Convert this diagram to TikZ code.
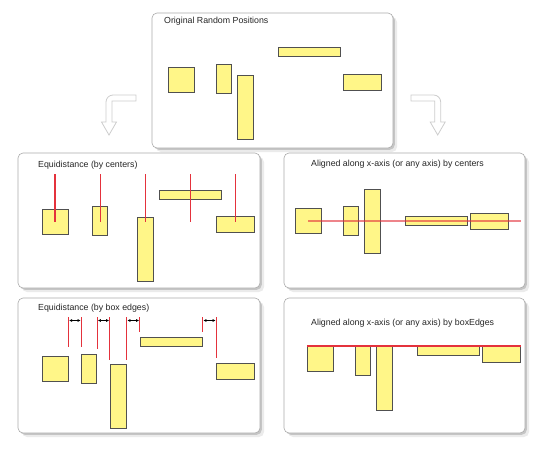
\documentclass[tikz,border=0pt]{standalone}
\usepackage{fontspec}
\setmainfont{Liberation Sans}
\usetikzlibrary{shadows,arrows.meta,calc}

\definecolor{boxfill}{RGB}{255,246,136}
\definecolor{boxline}{RGB}{80,80,80}
\definecolor{redline}{RGB}{228,50,60}
\definecolor{panelline}{RGB}{170,170,170}
\definecolor{flowgrey}{RGB}{205,205,205}

\tikzset{
  panel/.style={draw=panelline, fill=white, rounded corners=5pt, line width=0.6pt,
    general shadow={fill=black, opacity=0.08, shadow xshift=4pt, shadow yshift=-4pt},
    general shadow={fill=black, opacity=0.16, shadow xshift=1.8pt, shadow yshift=-1.8pt}},
  ttl/.style={anchor=west, inner sep=0pt, text=black!85, font=\fontsize{8.8}{10}\selectfont},
  blk/.style={draw=boxline, fill=boxfill, line width=0.9pt, inner sep=0pt},
  squ/.style={blk, minimum width=26pt, minimum height=25pt},
  nar/.style={blk, minimum width=15pt, minimum height=29pt},
  tal/.style={blk, minimum width=16pt, minimum height=64pt},
  lng/.style={blk, minimum width=62pt, minimum height=9pt},
  med/.style={blk, minimum width=38pt, minimum height=16pt},
  guideline/.style={draw=redline, line width=1.1pt},
  dimarrow/.style={<->, >={Latex[length=3pt,width=3pt]}, line width=0.6pt, black},
  flow/.style={draw=flowgrey, fill=white, line width=0.8pt}
}

\begin{document}
\begin{tikzpicture}[x=1pt, y=-1pt]
  \useasboundingbox (0,0) rectangle (544,450);

  % Flow arrows
  \draw[flow] (136,95) [rounded corners=7pt] -- (106,95) -- (106,110) [sharp corners] -- (106,122)
    -- (101.5,122) -- (109,135) -- (116.5,122) -- (112,122) -- (112,101) -- (136,101) -- cycle;
  \draw[flow] (411,95) [rounded corners=7pt] -- (440.7,95) -- (440.7,110) [sharp corners] -- (440.7,122)
    -- (445.2,122) -- (437.7,135) -- (430.2,122) -- (434.7,122) -- (434.7,101) -- (411,101) -- cycle;

  % Original random positions
  \path[panel] (152,13) rectangle (393,148);
  \node[ttl] (t0) at (164,21) {Original Random Positions};
  \node[squ] (r1) at (181,79.5) {};
  \node[nar] (r2) at (223.5,78.5) {};
  \node[tal] (r3) at (245,107) {};
  \node[lng] (r4) at (309.5,52) {};
  \node[med] (r5) at (362,82) {};

  % Equidistance (by centers)
  \path[panel] (18,153) rectangle (260,288);
  \node[ttl] (t1) at (38,165) {Equidistance (by centers)};
  \node[squ] (c1) at (55,222.4) {};
  \node[nar] (c2) at (100.2,221.3) {};
  \node[tal] (c3) at (145.3,249.7) {};
  \node[lng] (c4) at (190.5,194.5) {};
  \node[med] (c5) at (235.7,224.2) {};
  \coordinate (ctop) at (0,174);
  \coordinate (cbot) at (0,222);
  \foreach \n in {c1,c2,c3,c4,c5}
    \draw[guideline] (\n |- ctop) -- (\n |- cbot);

  % Aligned by centers
  \path[panel] (284,153) rectangle (525,288);
  \node[ttl] (t2) at (311,164) {Aligned along x-axis (or any axis) by centers};
  \node[squ] (a1) at (308.3,221) {};
  \node[nar] (a2) at (350.5,221) {};
  \node[tal] (a3) at (372.3,221) {};
  \node[lng] (a4) at (436.5,221) {};
  \node[med] (a5) at (489,221) {};
  \coordinate (aend) at (521,221);
  \draw[guideline, line width=1.4pt, opacity=0.6] (a1.center) -- (aend);

  % Equidistance (by box edges)
  \path[panel] (18,298) rectangle (260,433);
  \node[ttl] (t3) at (38,308) {Equidistance (by box edges)};
  \node[squ] (e1) at (55,369.2) {};
  \node[nar] (e2) at (89.2,368.5) {};
  \node[tal] (e3) at (118.3,396.7) {};
  \node[lng] (e4) at (171.3,341.5) {};
  \node[med] (e5) at (235.7,371.2) {};
  \coordinate (etop) at (0,317);
  \coordinate (edim) at (0,320.5);
  \foreach \a/\b in {e1.east/347, e2.west/347, e2.east/349, e3.west/360,
                     e3.east/360, e4.west/332, e4.east/332, e5.west/358}
    \draw[guideline] (\a |- etop) -- (\a |- 0,\b);
  \foreach \a/\b in {e1.east/e2.west, e2.east/e3.west, e3.east/e4.west, e4.east/e5.west}
    \draw[dimarrow] ($(\a |- edim)+(0.7,0)$) -- ($(\b |- edim)+(-0.7,0)$);

  % Aligned by box edges
  \path[panel] (284,298) rectangle (525,433);
  \node[ttl] (t4) at (311,323) {Aligned along x-axis (or any axis) by boxEdges};
  \node[squ, anchor=north] (b1) at (320.5,346) {};
  \node[nar, anchor=north] (b2) at (362.5,346) {};
  \node[tal, anchor=north] (b3) at (384.7,346) {};
  \node[lng, anchor=north] (b4) at (448.7,346) {};
  \node[med, anchor=north] (b5) at (501.3,346) {};
  \draw[guideline] (b1.north west) -- (b5.north east);
\end{tikzpicture}
\end{document}
